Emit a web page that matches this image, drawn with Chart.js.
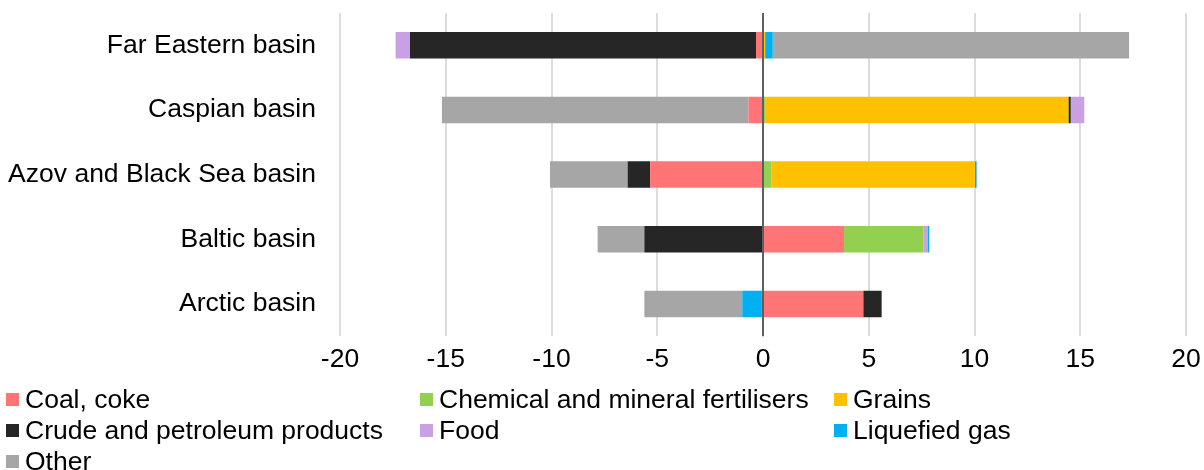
<!DOCTYPE html>
<html>
<head>
<meta charset="utf-8">
<script src="https://cdn.jsdelivr.net/npm/chart.js@4"></script>
<style>
  html, body { margin: 0; padding: 0; background: #fff; }
  body { width: 1204px; height: 470px; position: relative; overflow: hidden; font-family: "Liberation Sans", Arial, sans-serif; }
  #wrap { position: absolute; left: 0; top: 0; width: 1204px; height: 388px; }
  #legend { position: absolute; left: 0; top: 384px; width: 1204px; height: 86px; }
  .item { position: absolute; display: flex; align-items: center; font-size: 26.5px; color: #000; white-space: nowrap; line-height: 31px; height: 31px; }
  .sw { width: 13px; height: 13px; margin-right: 6px; flex: none; }
</style>
</head>
<body>
<div id="wrap"><canvas id="chart"></canvas></div>
<div id="legend"></div>
<script>
// Sea basins, top to bottom
const basins = ['Far Eastern basin', 'Caspian basin', 'Azov and Black Sea basin', 'Baltic basin', 'Arctic basin'];

// Cargo groups
const cargoNames = ['Coal, coke', 'Chemical and mineral fertilisers', 'Grains', 'Crude and petroleum products', 'Food', 'Liquefied gas', 'Other'];
const cargoColors = ['#FF7575', '#92D050', '#FFC000', '#262626', '#C9A1E3', '#00B0F0', '#A6A6A6'];

// Left-hand (negative) parts of each bar, per cargo group
const coalLeft   = [-0.33, -0.69, -5.34, 0, 0];
const fertLeft   = [0, 0, 0, 0, -0.05];
const grainsLeft = [0, 0, 0, 0, 0];
const crudeLeft  = [-16.36, 0, -1.06, -5.61, 0];
const foodLeft   = [-0.68, 0, 0, 0, 0];
const gasLeft    = [0, 0, 0, 0, -0.93];
const otherLeft  = [0, -14.49, -3.67, -2.21, -4.63];

// Right-hand (positive) parts of each bar, per cargo group
const coalRight   = [0, 0, 0, 3.83, 4.74];
const fertRight   = [0, 0.10, 0.39, 3.75, 0];
const grainsRight = [0.10, 14.34, 9.63, 0, 0];
const crudeRight  = [0, 0.11, 0, 0, 0.87];
const foodRight   = [0, 0.64, 0, 0.22, 0];
const gasRight    = [0.36, 0, 0.08, 0.06, 0];
const otherRight  = [16.85, 0, 0, 0, 0];

// Axis ticks
const xMin = -20, xMax = 20, xStep = 5;

const leftParts  = [coalLeft, fertLeft, grainsLeft, crudeLeft, foodLeft, gasLeft, otherLeft];
const rightParts = [coalRight, fertRight, grainsRight, crudeRight, foodRight, gasRight, otherRight];

const datasets = [];
cargoNames.forEach((name, i) => {
  datasets.push({ label: name, data: leftParts[i], backgroundColor: cargoColors[i], borderWidth: 0, stack: 's' });
});
cargoNames.forEach((name, i) => {
  datasets.push({ label: name + ' ', data: rightParts[i], backgroundColor: cargoColors[i], borderWidth: 0, stack: 's' });
});

// Dark vertical line at zero, drawn on top of the bars
const zeroLine = {
  id: 'zeroLine',
  afterDatasetsDraw(chart) {
    const x = chart.scales.x.getPixelForValue(0);
    const area = chart.chartArea;
    const ctx = chart.ctx;
    ctx.save();
    ctx.strokeStyle = '#5F5F5F';
    ctx.lineWidth = 2;
    ctx.beginPath();
    ctx.moveTo(Math.round(x), area.top);
    ctx.lineTo(Math.round(x), area.bottom);
    ctx.stroke();
    ctx.restore();
  }
};

const font = { family: '"Liberation Sans", Arial, sans-serif', size: 26.5 };

new Chart(document.getElementById('chart'), {
  type: 'bar',
  data: { labels: basins, datasets },
  options: {
    indexAxis: 'y',
    responsive: true,
    maintainAspectRatio: false,
    animation: false,
    layout: { padding: { top: 13, right: 0, bottom: 4, left: 0 } },
    datasets: { bar: { categoryPercentage: 0.41, barPercentage: 1 } },
    plugins: { legend: { display: false }, tooltip: { enabled: false } },
    scales: {
      x: {
        stacked: true,
        min: xMin, max: xMax,
        ticks: { stepSize: xStep, color: '#000', font, padding: 8 },
        grid: { color: '#DCDCDC', lineWidth: 2, drawTicks: false },
        border: { display: false },
        afterFit(scale) {
          scale.paddingLeft = 0;
          scale.paddingRight = 18;
        }
      },
      y: {
        stacked: true,
        ticks: { color: '#000', font, padding: 24 },
        grid: { display: false, drawTicks: false },
        border: { display: false },
        afterFit(scale) {
          scale.width = 340;
          scale.paddingTop = 0;
          scale.paddingBottom = 0;
        }
      }
    }
  },
  plugins: [zeroLine]
});

// Legend laid out on a three-column grid
const legendPos = [[6, 0], [420, 0], [834, 0], [6, 31], [420, 31], [834, 31], [6, 62]];
const legend = document.getElementById('legend');
cargoNames.forEach((name, i) => {
  const el = document.createElement('div');
  el.className = 'item';
  el.style.left = legendPos[i][0] + 'px';
  el.style.top = legendPos[i][1] + 'px';
  const sw = document.createElement('span');
  sw.className = 'sw';
  sw.style.background = cargoColors[i];
  const tx = document.createElement('span');
  tx.textContent = name;
  el.appendChild(sw);
  el.appendChild(tx);
  legend.appendChild(el);
});
</script>
</body>
</html>
